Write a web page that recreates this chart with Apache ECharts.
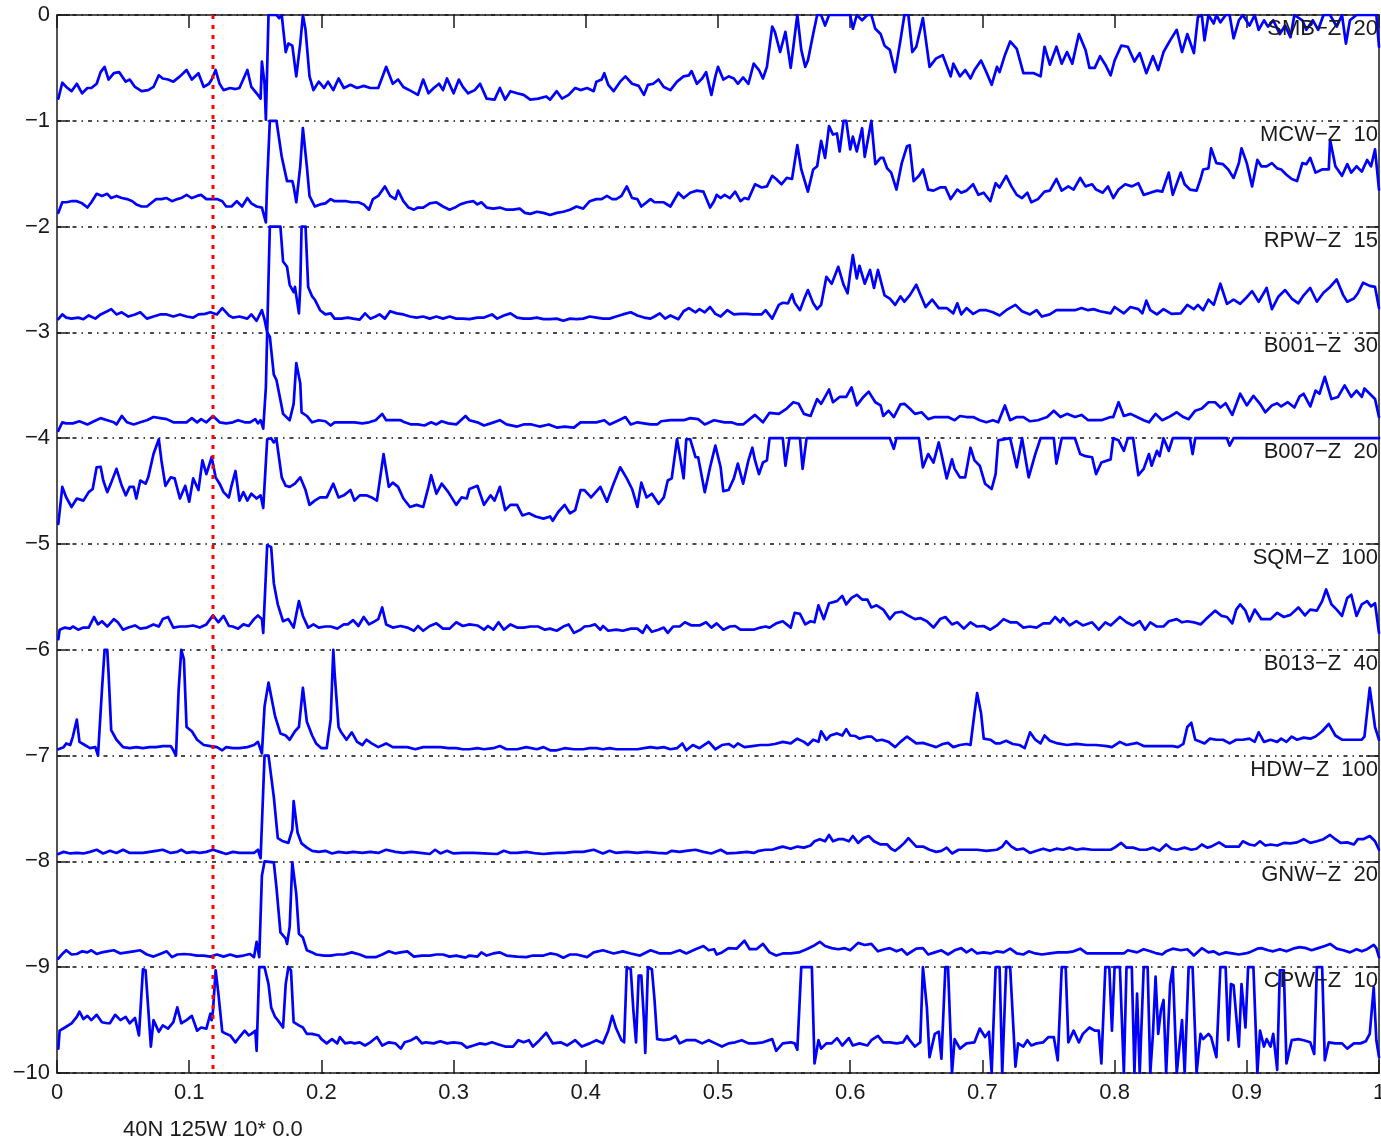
<!DOCTYPE html>
<html><head><meta charset="utf-8">
<script src="https://cdn.jsdelivr.net/npm/echarts@6/dist/echarts.min.js"></script>
<style>html,body{margin:0;padding:0;background:#fff;overflow:hidden}#c{width:1381px;height:1140px}</style>
</head><body><div id="c"></div>
<script>
const xTicks = [0,0.1,0.2,0.3,0.4,0.5,0.6,0.7,0.8,0.9,1];
const yTicks = [0,-1,-2,-3,-4,-5,-6,-7,-8,-9,-10];
const stations = ['SMB\u2212Z  20','MCW\u2212Z  10','RPW\u2212Z  15','B001\u2212Z  30','B007\u2212Z  20','SQM\u2212Z  100','B013\u2212Z  40','HDW\u2212Z  100','GNW\u2212Z  20','CPW\u2212Z  10'];
const markerX = 0.118;
const footnote = '40N 125W 10* 0.0';

const smb = [[0.001,-0.79],[0.004,-0.64],[0.007,-0.68],[0.011,-0.72],[0.015,-0.65],[0.019,-0.74],[0.023,-0.69],[0.026,-0.69],[0.030,-0.65],[0.033,-0.54],[0.036,-0.49],[0.039,-0.61],[0.043,-0.55],[0.047,-0.54],[0.052,-0.63],[0.055,-0.61],[0.059,-0.68],[0.064,-0.72],[0.069,-0.71],[0.073,-0.68],[0.077,-0.57],[0.080,-0.60],[0.084,-0.61],[0.088,-0.63],[0.093,-0.58],[0.098,-0.52],[0.102,-0.61],[0.107,-0.55],[0.111,-0.68],[0.115,-0.65],[0.117,-0.61],[0.120,-0.52],[0.123,-0.65],[0.126,-0.71],[0.131,-0.69],[0.135,-0.70],[0.138,-0.69],[0.144,-0.52],[0.147,-0.68],[0.151,-0.74],[0.154,-0.79],[0.155,-0.44],[0.157,-0.65],[0.158,-0.99],[0.160,0],[0.166,0],[0.168,-0.03],[0.170,0],[0.173,-0.35],[0.175,-0.27],[0.178,-0.29],[0.181,-0.58],[0.184,-0.27],[0.186,0],[0.188,-0.14],[0.191,-0.58],[0.194,-0.71],[0.198,-0.63],[0.202,-0.69],[0.205,-0.63],[0.209,-0.71],[0.213,-0.60],[0.217,-0.69],[0.222,-0.66],[0.227,-0.69],[0.232,-0.67],[0.237,-0.69],[0.243,-0.69],[0.249,-0.49],[0.254,-0.65],[0.258,-0.61],[0.262,-0.68],[0.268,-0.72],[0.273,-0.755],[0.277,-0.61],[0.281,-0.74],[0.285,-0.69],[0.289,-0.65],[0.292,-0.71],[0.295,-0.60],[0.300,-0.74],[0.304,-0.61],[0.307,-0.68],[0.311,-0.74],[0.316,-0.71],[0.320,-0.65],[0.325,-0.79],[0.331,-0.80],[0.335,-0.69],[0.339,-0.80],[0.343,-0.72],[0.348,-0.74],[0.353,-0.755],[0.358,-0.80],[0.364,-0.79],[0.370,-0.77],[0.373,-0.80],[0.378,-0.72],[0.382,-0.79],[0.387,-0.755],[0.392,-0.69],[0.396,-0.71],[0.401,-0.69],[0.406,-0.72],[0.408,-0.63],[0.412,-0.61],[0.414,-0.55],[0.417,-0.66],[0.421,-0.72],[0.426,-0.63],[0.430,-0.58],[0.435,-0.65],[0.440,-0.67],[0.444,-0.755],[0.447,-0.66],[0.451,-0.65],[0.455,-0.61],[0.459,-0.68],[0.464,-0.71],[0.469,-0.63],[0.474,-0.58],[0.478,-0.57],[0.480,-0.53],[0.484,-0.65],[0.488,-0.60],[0.491,-0.54],[0.495,-0.755],[0.498,-0.58],[0.500,-0.49],[0.504,-0.61],[0.508,-0.58],[0.512,-0.60],[0.515,-0.65],[0.519,-0.59],[0.523,-0.65],[0.527,-0.46],[0.531,-0.52],[0.534,-0.60],[0.537,-0.49],[0.541,-0.11],[0.543,-0.16],[0.547,-0.35],[0.551,-0.16],[0.555,-0.50],[0.557,-0.30],[0.560,0],[0.563,-0.33],[0.566,-0.49],[0.568,-0.43],[0.572,-0.18],[0.575,0],[0.578,0],[0.581,-0.10],[0.584,0],[0.600,0],[0.602,-0.13],[0.605,0],[0.609,-0.05],[0.613,0],[0.616,0],[0.619,-0.13],[0.623,-0.18],[0.626,-0.29],[0.630,-0.33],[0.634,-0.54],[0.638,-0.24],[0.641,0],[0.644,0],[0.647,-0.35],[0.650,-0.30],[0.655,-0.03],[0.660,-0.49],[0.665,-0.41],[0.670,-0.38],[0.676,-0.58],[0.678,-0.46],[0.683,-0.58],[0.687,-0.52],[0.691,-0.60],[0.694,-0.52],[0.699,-0.43],[0.703,-0.54],[0.707,-0.66],[0.711,-0.49],[0.713,-0.54],[0.717,-0.38],[0.721,-0.25],[0.726,-0.32],[0.731,-0.55],[0.739,-0.55],[0.744,-0.58],[0.747,-0.30],[0.751,-0.47],[0.756,-0.30],[0.760,-0.46],[0.764,-0.35],[0.768,-0.46],[0.773,-0.18],[0.778,-0.33],[0.781,-0.50],[0.785,-0.50],[0.789,-0.39],[0.793,-0.47],[0.797,-0.57],[0.800,-0.43],[0.805,-0.29],[0.810,-0.30],[0.815,-0.44],[0.819,-0.36],[0.824,-0.55],[0.829,-0.39],[0.833,-0.52],[0.837,-0.35],[0.842,-0.24],[0.847,-0.14],[0.851,-0.35],[0.855,-0.18],[0.860,-0.36],[0.863,-0.02],[0.866,0],[0.868,-0.24],[0.871,0],[0.875,-0.08],[0.877,0],[0.880,-0.07],[0.884,0],[0.887,0],[0.890,-0.22],[0.894,-0.05],[0.897,0],[0.902,-0.10],[0.906,0],[0.909,-0.14],[0.913,-0.05],[0.916,-0.11],[0.920,-0.05],[0.925,-0.18],[0.929,-0.10],[0.933,-0.21],[0.936,0],[0.942,-0.05],[0.945,-0.14],[0.950,-0.05],[0.954,-0.14],[0.958,0],[0.963,0],[0.968,-0.11],[0.972,0],[0.975,-0.27],[0.978,-0.05],[0.983,0],[0.998,0],[1.0,-0.30]];

const mcw = [[0.001,-1.87],[0.004,-1.77],[0.007,-1.77],[0.011,-1.76],[0.015,-1.76],[0.019,-1.78],[0.023,-1.82],[0.026,-1.77],[0.030,-1.69],[0.034,-1.71],[0.038,-1.69],[0.041,-1.73],[0.045,-1.71],[0.049,-1.73],[0.053,-1.74],[0.057,-1.76],[0.060,-1.79],[0.064,-1.81],[0.068,-1.81],[0.072,-1.77],[0.075,-1.74],[0.079,-1.74],[0.083,-1.73],[0.087,-1.76],[0.091,-1.74],[0.094,-1.73],[0.098,-1.70],[0.102,-1.73],[0.106,-1.71],[0.109,-1.70],[0.113,-1.74],[0.117,-1.74],[0.121,-1.74],[0.125,-1.76],[0.128,-1.81],[0.132,-1.81],[0.136,-1.76],[0.140,-1.81],[0.144,-1.73],[0.147,-1.78],[0.151,-1.81],[0.155,-1.82],[0.158,-1.96],[0.159,-1.57],[0.161,-1.0],[0.166,-1.0],[0.170,-1.34],[0.174,-1.57],[0.178,-1.57],[0.179,-1.62],[0.181,-1.77],[0.184,-1.43],[0.186,-1.07],[0.189,-1.43],[0.191,-1.71],[0.195,-1.81],[0.199,-1.79],[0.203,-1.78],[0.207,-1.74],[0.210,-1.76],[0.214,-1.76],[0.219,-1.76],[0.223,-1.77],[0.228,-1.77],[0.232,-1.79],[0.236,-1.84],[0.239,-1.74],[0.243,-1.71],[0.248,-1.62],[0.252,-1.71],[0.256,-1.74],[0.258,-1.66],[0.262,-1.76],[0.266,-1.82],[0.270,-1.84],[0.273,-1.82],[0.277,-1.82],[0.282,-1.78],[0.287,-1.77],[0.292,-1.81],[0.297,-1.84],[0.301,-1.82],[0.305,-1.79],[0.310,-1.77],[0.315,-1.76],[0.318,-1.79],[0.321,-1.77],[0.325,-1.82],[0.330,-1.83],[0.335,-1.82],[0.340,-1.84],[0.345,-1.84],[0.350,-1.83],[0.354,-1.87],[0.358,-1.88],[0.363,-1.86],[0.368,-1.87],[0.373,-1.89],[0.378,-1.87],[0.383,-1.86],[0.388,-1.84],[0.393,-1.81],[0.398,-1.83],[0.403,-1.76],[0.408,-1.74],[0.412,-1.74],[0.416,-1.71],[0.420,-1.74],[0.423,-1.74],[0.427,-1.71],[0.431,-1.62],[0.435,-1.73],[0.439,-1.74],[0.442,-1.81],[0.449,-1.74],[0.452,-1.77],[0.459,-1.77],[0.464,-1.81],[0.470,-1.68],[0.474,-1.73],[0.479,-1.68],[0.484,-1.66],[0.489,-1.67],[0.494,-1.82],[0.497,-1.76],[0.499,-1.70],[0.502,-1.73],[0.505,-1.70],[0.509,-1.73],[0.513,-1.67],[0.517,-1.76],[0.520,-1.73],[0.523,-1.74],[0.528,-1.60],[0.533,-1.63],[0.537,-1.62],[0.541,-1.52],[0.544,-1.55],[0.548,-1.60],[0.552,-1.54],[0.556,-1.55],[0.560,-1.23],[0.563,-1.46],[0.568,-1.67],[0.572,-1.46],[0.575,-1.43],[0.578,-1.19],[0.581,-1.35],[0.584,-1.05],[0.587,-1.13],[0.590,-1.12],[0.592,-1.29],[0.595,-1.0],[0.597,-1.0],[0.600,-1.27],[0.602,-1.15],[0.605,-1.29],[0.609,-1.07],[0.611,-1.34],[0.616,-1.0],[0.619,-1.41],[0.623,-1.35],[0.625,-1.35],[0.628,-1.45],[0.631,-1.49],[0.635,-1.65],[0.639,-1.40],[0.643,-1.24],[0.645,-1.23],[0.648,-1.57],[0.652,-1.52],[0.655,-1.46],[0.659,-1.65],[0.663,-1.66],[0.668,-1.63],[0.672,-1.63],[0.676,-1.74],[0.681,-1.65],[0.684,-1.68],[0.688,-1.66],[0.693,-1.60],[0.697,-1.70],[0.701,-1.68],[0.706,-1.76],[0.710,-1.59],[0.713,-1.63],[0.718,-1.52],[0.722,-1.62],[0.726,-1.70],[0.730,-1.73],[0.734,-1.68],[0.737,-1.77],[0.742,-1.74],[0.747,-1.67],[0.751,-1.66],[0.756,-1.55],[0.760,-1.66],[0.765,-1.62],[0.769,-1.65],[0.774,-1.54],[0.778,-1.62],[0.783,-1.60],[0.786,-1.65],[0.791,-1.68],[0.795,-1.62],[0.799,-1.73],[0.803,-1.65],[0.808,-1.60],[0.813,-1.62],[0.818,-1.59],[0.822,-1.70],[0.827,-1.68],[0.832,-1.66],[0.836,-1.67],[0.841,-1.49],[0.844,-1.70],[0.850,-1.49],[0.853,-1.60],[0.857,-1.65],[0.862,-1.66],[0.865,-1.55],[0.867,-1.46],[0.871,-1.45],[0.873,-1.26],[0.877,-1.40],[0.882,-1.41],[0.886,-1.46],[0.890,-1.54],[0.894,-1.40],[0.896,-1.26],[0.900,-1.40],[0.904,-1.62],[0.908,-1.37],[0.911,-1.43],[0.915,-1.43],[0.919,-1.40],[0.923,-1.45],[0.926,-1.46],[0.930,-1.51],[0.934,-1.55],[0.938,-1.57],[0.942,-1.40],[0.945,-1.41],[0.948,-1.35],[0.952,-1.49],[0.957,-1.46],[0.962,-1.46],[0.963,-1.18],[0.967,-1.43],[0.972,-1.52],[0.976,-1.41],[0.979,-1.49],[0.983,-1.43],[0.987,-1.48],[0.991,-1.37],[0.994,-1.43],[0.997,-1.27],[1.0,-1.65]];

const rpw = [[0.001,-2.875],[0.004,-2.83],[0.007,-2.86],[0.011,-2.87],[0.016,-2.86],[0.020,-2.875],[0.024,-2.84],[0.029,-2.87],[0.033,-2.83],[0.038,-2.80],[0.041,-2.78],[0.045,-2.83],[0.049,-2.81],[0.054,-2.85],[0.059,-2.83],[0.063,-2.81],[0.068,-2.87],[0.073,-2.85],[0.078,-2.83],[0.083,-2.83],[0.088,-2.85],[0.093,-2.83],[0.098,-2.85],[0.103,-2.86],[0.107,-2.83],[0.112,-2.825],[0.116,-2.81],[0.121,-2.83],[0.125,-2.77],[0.130,-2.84],[0.133,-2.86],[0.138,-2.85],[0.144,-2.87],[0.147,-2.83],[0.151,-2.89],[0.155,-2.79],[0.157,-2.88],[0.159,-3.0],[0.160,-2.49],[0.161,-2.0],[0.169,-2.0],[0.171,-2.33],[0.174,-2.38],[0.176,-2.55],[0.179,-2.62],[0.180,-2.57],[0.183,-2.82],[0.184,-2.57],[0.185,-2.0],[0.188,-2.0],[0.190,-2.57],[0.193,-2.66],[0.195,-2.69],[0.199,-2.79],[0.203,-2.83],[0.207,-2.82],[0.210,-2.87],[0.215,-2.87],[0.220,-2.86],[0.224,-2.87],[0.229,-2.88],[0.233,-2.82],[0.237,-2.87],[0.241,-2.85],[0.244,-2.83],[0.248,-2.87],[0.252,-2.80],[0.257,-2.82],[0.262,-2.83],[0.267,-2.85],[0.272,-2.86],[0.277,-2.85],[0.282,-2.87],[0.287,-2.85],[0.292,-2.87],[0.297,-2.85],[0.302,-2.87],[0.307,-2.87],[0.312,-2.875],[0.318,-2.86],[0.323,-2.86],[0.329,-2.83],[0.333,-2.87],[0.338,-2.84],[0.343,-2.82],[0.348,-2.86],[0.353,-2.87],[0.358,-2.87],[0.363,-2.86],[0.368,-2.875],[0.373,-2.875],[0.378,-2.87],[0.383,-2.89],[0.388,-2.87],[0.393,-2.875],[0.398,-2.87],[0.403,-2.85],[0.408,-2.86],[0.413,-2.87],[0.418,-2.87],[0.423,-2.85],[0.428,-2.83],[0.434,-2.81],[0.439,-2.84],[0.444,-2.86],[0.449,-2.87],[0.452,-2.85],[0.456,-2.82],[0.460,-2.87],[0.464,-2.84],[0.470,-2.875],[0.474,-2.80],[0.478,-2.77],[0.483,-2.81],[0.486,-2.78],[0.490,-2.81],[0.494,-2.76],[0.498,-2.825],[0.502,-2.85],[0.507,-2.79],[0.512,-2.83],[0.517,-2.825],[0.522,-2.825],[0.526,-2.83],[0.529,-2.83],[0.533,-2.83],[0.536,-2.79],[0.541,-2.87],[0.546,-2.74],[0.549,-2.72],[0.553,-2.725],[0.556,-2.64],[0.558,-2.72],[0.562,-2.79],[0.565,-2.69],[0.568,-2.60],[0.572,-2.725],[0.575,-2.78],[0.578,-2.74],[0.582,-2.475],[0.586,-2.54],[0.591,-2.38],[0.595,-2.55],[0.598,-2.63],[0.600,-2.44],[0.602,-2.27],[0.605,-2.49],[0.607,-2.37],[0.611,-2.54],[0.615,-2.41],[0.618,-2.58],[0.621,-2.41],[0.626,-2.65],[0.630,-2.68],[0.634,-2.74],[0.638,-2.66],[0.641,-2.71],[0.645,-2.65],[0.650,-2.55],[0.657,-2.76],[0.662,-2.69],[0.667,-2.77],[0.673,-2.77],[0.678,-2.82],[0.681,-2.725],[0.684,-2.83],[0.688,-2.77],[0.693,-2.825],[0.698,-2.79],[0.703,-2.79],[0.708,-2.81],[0.713,-2.84],[0.718,-2.79],[0.725,-2.74],[0.730,-2.80],[0.736,-2.83],[0.741,-2.79],[0.745,-2.85],[0.751,-2.83],[0.756,-2.79],[0.764,-2.79],[0.770,-2.79],[0.775,-2.77],[0.780,-2.79],[0.784,-2.78],[0.789,-2.80],[0.797,-2.82],[0.800,-2.76],[0.807,-2.82],[0.812,-2.76],[0.818,-2.78],[0.821,-2.82],[0.824,-2.70],[0.827,-2.79],[0.832,-2.83],[0.837,-2.78],[0.843,-2.825],[0.850,-2.82],[0.855,-2.74],[0.860,-2.78],[0.863,-2.74],[0.867,-2.79],[0.871,-2.69],[0.875,-2.74],[0.880,-2.54],[0.885,-2.73],[0.890,-2.69],[0.895,-2.73],[0.899,-2.68],[0.904,-2.61],[0.909,-2.71],[0.915,-2.58],[0.919,-2.78],[0.924,-2.66],[0.929,-2.60],[0.934,-2.68],[0.939,-2.725],[0.943,-2.65],[0.948,-2.58],[0.953,-2.71],[0.958,-2.625],[0.963,-2.57],[0.968,-2.50],[0.973,-2.65],[0.976,-2.71],[0.981,-2.68],[0.984,-2.63],[0.988,-2.53],[0.993,-2.56],[0.997,-2.57],[1.0,-2.77]];

const b001 = [[0.001,-3.93],[0.004,-3.85],[0.007,-3.86],[0.012,-3.86],[0.017,-3.84],[0.023,-3.87],[0.028,-3.84],[0.033,-3.81],[0.038,-3.83],[0.043,-3.85],[0.045,-3.87],[0.049,-3.79],[0.053,-3.85],[0.058,-3.87],[0.063,-3.85],[0.068,-3.83],[0.073,-3.80],[0.078,-3.81],[0.083,-3.82],[0.088,-3.85],[0.093,-3.85],[0.098,-3.85],[0.102,-3.81],[0.106,-3.85],[0.109,-3.82],[0.113,-3.85],[0.118,-3.79],[0.123,-3.85],[0.128,-3.86],[0.133,-3.85],[0.137,-3.83],[0.142,-3.85],[0.146,-3.85],[0.150,-3.82],[0.152,-3.86],[0.154,-3.83],[0.156,-3.91],[0.158,-3.52],[0.159,-3.0],[0.161,-3.04],[0.164,-3.40],[0.166,-3.45],[0.169,-3.64],[0.171,-3.77],[0.176,-3.83],[0.179,-3.675],[0.181,-3.29],[0.184,-3.48],[0.185,-3.755],[0.189,-3.79],[0.193,-3.85],[0.198,-3.83],[0.203,-3.84],[0.207,-3.88],[0.210,-3.85],[0.215,-3.85],[0.220,-3.85],[0.225,-3.85],[0.231,-3.86],[0.236,-3.85],[0.241,-3.83],[0.246,-3.77],[0.249,-3.83],[0.254,-3.83],[0.260,-3.83],[0.263,-3.85],[0.268,-3.87],[0.273,-3.87],[0.278,-3.88],[0.283,-3.85],[0.287,-3.87],[0.291,-3.84],[0.296,-3.86],[0.302,-3.87],[0.309,-3.79],[0.312,-3.83],[0.318,-3.85],[0.323,-3.88],[0.328,-3.86],[0.335,-3.83],[0.340,-3.87],[0.348,-3.89],[0.353,-3.87],[0.359,-3.87],[0.365,-3.89],[0.372,-3.87],[0.378,-3.90],[0.384,-3.89],[0.391,-3.90],[0.396,-3.85],[0.403,-3.85],[0.408,-3.85],[0.414,-3.83],[0.418,-3.87],[0.425,-3.83],[0.430,-3.80],[0.434,-3.87],[0.439,-3.85],[0.444,-3.86],[0.449,-3.87],[0.454,-3.87],[0.457,-3.84],[0.464,-3.83],[0.469,-3.83],[0.474,-3.83],[0.479,-3.81],[0.485,-3.82],[0.490,-3.87],[0.497,-3.83],[0.505,-3.85],[0.510,-3.85],[0.515,-3.87],[0.519,-3.87],[0.524,-3.82],[0.528,-3.78],[0.534,-3.85],[0.539,-3.76],[0.546,-3.77],[0.552,-3.72],[0.557,-3.66],[0.561,-3.675],[0.565,-3.77],[0.570,-3.79],[0.575,-3.63],[0.578,-3.675],[0.584,-3.54],[0.587,-3.66],[0.592,-3.61],[0.597,-3.61],[0.601,-3.52],[0.605,-3.69],[0.610,-3.61],[0.614,-3.56],[0.619,-3.66],[0.623,-3.69],[0.625,-3.79],[0.629,-3.74],[0.633,-3.80],[0.638,-3.68],[0.641,-3.675],[0.645,-3.72],[0.649,-3.77],[0.654,-3.755],[0.659,-3.82],[0.664,-3.80],[0.669,-3.80],[0.674,-3.80],[0.679,-3.83],[0.683,-3.79],[0.688,-3.80],[0.693,-3.80],[0.698,-3.83],[0.703,-3.85],[0.708,-3.83],[0.712,-3.85],[0.717,-3.69],[0.721,-3.83],[0.726,-3.80],[0.731,-3.80],[0.736,-3.84],[0.742,-3.83],[0.749,-3.80],[0.754,-3.74],[0.759,-3.80],[0.764,-3.77],[0.770,-3.80],[0.775,-3.78],[0.780,-3.83],[0.785,-3.83],[0.790,-3.83],[0.797,-3.80],[0.799,-3.80],[0.803,-3.66],[0.807,-3.79],[0.812,-3.77],[0.817,-3.80],[0.822,-3.83],[0.826,-3.85],[0.831,-3.77],[0.836,-3.83],[0.841,-3.80],[0.847,-3.755],[0.852,-3.80],[0.856,-3.82],[0.861,-3.74],[0.866,-3.72],[0.871,-3.66],[0.876,-3.66],[0.880,-3.71],[0.884,-3.67],[0.889,-3.78],[0.895,-3.58],[0.900,-3.69],[0.905,-3.60],[0.910,-3.675],[0.914,-3.755],[0.919,-3.69],[0.923,-3.67],[0.926,-3.70],[0.931,-3.66],[0.936,-3.71],[0.940,-3.605],[0.943,-3.58],[0.948,-3.70],[0.952,-3.55],[0.955,-3.58],[0.959,-3.42],[0.964,-3.63],[0.969,-3.61],[0.974,-3.50],[0.979,-3.61],[0.983,-3.55],[0.987,-3.61],[0.989,-3.53],[0.993,-3.58],[0.997,-3.63],[1.0,-3.80]];

const b007 = [[0.001,-4.81],[0.004,-4.46],[0.007,-4.56],[0.011,-4.65],[0.015,-4.57],[0.020,-4.59],[0.024,-4.51],[0.027,-4.48],[0.030,-4.275],[0.033,-4.27],[0.035,-4.40],[0.038,-4.51],[0.041,-4.42],[0.045,-4.29],[0.049,-4.45],[0.052,-4.54],[0.055,-4.46],[0.058,-4.46],[0.060,-4.57],[0.063,-4.40],[0.067,-4.43],[0.069,-4.37],[0.073,-4.15],[0.077,-4.01],[0.079,-4.21],[0.082,-4.45],[0.086,-4.37],[0.089,-4.38],[0.093,-4.57],[0.097,-4.45],[0.100,-4.60],[0.103,-4.38],[0.107,-4.49],[0.110,-4.21],[0.113,-4.34],[0.117,-4.18],[0.120,-4.37],[0.123,-4.43],[0.126,-4.51],[0.130,-4.56],[0.132,-4.45],[0.135,-4.31],[0.138,-4.59],[0.141,-4.51],[0.144,-4.59],[0.147,-4.525],[0.151,-4.57],[0.154,-4.54],[0.156,-4.66],[0.159,-4.01],[0.162,-4.0],[0.164,-4.04],[0.166,-4.01],[0.170,-4.37],[0.173,-4.45],[0.176,-4.46],[0.180,-4.43],[0.184,-4.37],[0.188,-4.49],[0.191,-4.63],[0.195,-4.59],[0.199,-4.56],[0.204,-4.56],[0.209,-4.43],[0.213,-4.56],[0.217,-4.54],[0.222,-4.49],[0.225,-4.59],[0.229,-4.54],[0.234,-4.54],[0.238,-4.56],[0.242,-4.59],[0.247,-4.15],[0.251,-4.46],[0.254,-4.42],[0.258,-4.46],[0.262,-4.57],[0.267,-4.65],[0.272,-4.63],[0.277,-4.65],[0.281,-4.46],[0.283,-4.35],[0.287,-4.525],[0.291,-4.43],[0.296,-4.51],[0.302,-4.63],[0.306,-4.56],[0.310,-4.57],[0.312,-4.48],[0.318,-4.45],[0.323,-4.63],[0.328,-4.54],[0.331,-4.59],[0.335,-4.46],[0.339,-4.68],[0.343,-4.63],[0.348,-4.63],[0.352,-4.73],[0.357,-4.71],[0.362,-4.74],[0.368,-4.76],[0.373,-4.74],[0.375,-4.78],[0.379,-4.70],[0.384,-4.63],[0.388,-4.71],[0.392,-4.68],[0.396,-4.49],[0.399,-4.49],[0.404,-4.56],[0.411,-4.46],[0.416,-4.60],[0.421,-4.43],[0.426,-4.275],[0.431,-4.38],[0.435,-4.48],[0.439,-4.65],[0.442,-4.42],[0.446,-4.56],[0.450,-4.525],[0.455,-4.62],[0.459,-4.56],[0.462,-4.40],[0.465,-4.38],[0.469,-4.01],[0.471,-4.15],[0.474,-4.38],[0.476,-4.01],[0.479,-4.01],[0.483,-4.18],[0.485,-4.18],[0.490,-4.51],[0.494,-4.275],[0.498,-4.07],[0.502,-4.275],[0.504,-4.50],[0.508,-4.49],[0.512,-4.38],[0.515,-4.24],[0.519,-4.43],[0.523,-4.21],[0.526,-4.09],[0.528,-4.21],[0.531,-4.34],[0.534,-4.23],[0.537,-4.21],[0.539,-4.0],[0.549,-4.0],[0.551,-4.26],[0.554,-4.0],[0.562,-4.0],[0.564,-4.29],[0.567,-4.0],[0.630,-4.0],[0.633,-4.10],[0.635,-4.0],[0.652,-4.0],[0.655,-4.275],[0.659,-4.15],[0.663,-4.23],[0.667,-4.04],[0.669,-4.15],[0.673,-4.38],[0.677,-4.20],[0.679,-4.29],[0.683,-4.37],[0.687,-4.37],[0.691,-4.09],[0.694,-4.21],[0.698,-4.26],[0.702,-4.43],[0.707,-4.48],[0.710,-4.34],[0.712,-4.02],[0.721,-4.0],[0.726,-4.275],[0.730,-4.0],[0.735,-4.37],[0.740,-4.15],[0.744,-4.0],[0.754,-4.0],[0.756,-4.24],[0.760,-4.0],[0.770,-4.0],[0.774,-4.15],[0.778,-4.17],[0.783,-4.18],[0.786,-4.34],[0.790,-4.23],[0.797,-4.20],[0.799,-4.0],[0.803,-4.02],[0.807,-4.12],[0.810,-4.0],[0.814,-4.0],[0.818,-4.35],[0.822,-4.29],[0.826,-4.15],[0.828,-4.26],[0.832,-4.12],[0.834,-4.17],[0.837,-4.0],[0.841,-4.12],[0.844,-4.0],[0.857,-4.0],[0.859,-4.15],[0.861,-4.0],[0.885,-4.0],[0.887,-4.07],[0.890,-4.0],[1.0,-4.0]];

const sqm = [[0.001,-5.90],[0.002,-5.81],[0.006,-5.79],[0.010,-5.80],[0.012,-5.78],[0.016,-5.81],[0.020,-5.79],[0.024,-5.79],[0.028,-5.69],[0.031,-5.76],[0.034,-5.73],[0.038,-5.78],[0.043,-5.71],[0.046,-5.74],[0.050,-5.81],[0.054,-5.79],[0.059,-5.77],[0.063,-5.80],[0.068,-5.79],[0.073,-5.76],[0.077,-5.78],[0.080,-5.71],[0.084,-5.69],[0.088,-5.79],[0.093,-5.78],[0.098,-5.78],[0.103,-5.77],[0.108,-5.79],[0.113,-5.76],[0.118,-5.675],[0.122,-5.74],[0.126,-5.68],[0.130,-5.775],[0.133,-5.78],[0.137,-5.80],[0.141,-5.76],[0.145,-5.775],[0.149,-5.71],[0.152,-5.675],[0.155,-5.71],[0.156,-5.84],[0.159,-5.01],[0.162,-5.03],[0.164,-5.37],[0.167,-5.57],[0.171,-5.73],[0.175,-5.71],[0.179,-5.79],[0.183,-5.54],[0.186,-5.68],[0.190,-5.79],[0.194,-5.76],[0.198,-5.79],[0.203,-5.78],[0.207,-5.78],[0.212,-5.80],[0.217,-5.76],[0.220,-5.76],[0.224,-5.72],[0.228,-5.775],[0.232,-5.69],[0.236,-5.76],[0.239,-5.74],[0.243,-5.71],[0.246,-5.60],[0.249,-5.76],[0.254,-5.79],[0.260,-5.775],[0.265,-5.79],[0.270,-5.82],[0.273,-5.775],[0.277,-5.82],[0.282,-5.775],[0.287,-5.75],[0.292,-5.80],[0.297,-5.80],[0.302,-5.74],[0.307,-5.775],[0.312,-5.76],[0.318,-5.77],[0.323,-5.81],[0.326,-5.775],[0.330,-5.81],[0.334,-5.74],[0.338,-5.81],[0.343,-5.76],[0.348,-5.79],[0.353,-5.79],[0.358,-5.78],[0.364,-5.78],[0.369,-5.81],[0.373,-5.80],[0.378,-5.82],[0.383,-5.78],[0.387,-5.76],[0.391,-5.84],[0.396,-5.81],[0.399,-5.78],[0.403,-5.775],[0.407,-5.76],[0.411,-5.81],[0.413,-5.775],[0.417,-5.82],[0.423,-5.81],[0.428,-5.82],[0.434,-5.80],[0.439,-5.80],[0.443,-5.84],[0.446,-5.77],[0.450,-5.83],[0.455,-5.81],[0.459,-5.79],[0.462,-5.84],[0.466,-5.78],[0.471,-5.78],[0.475,-5.74],[0.480,-5.77],[0.486,-5.77],[0.491,-5.74],[0.495,-5.79],[0.499,-5.75],[0.504,-5.81],[0.509,-5.78],[0.513,-5.775],[0.517,-5.81],[0.522,-5.81],[0.527,-5.81],[0.532,-5.79],[0.536,-5.78],[0.539,-5.79],[0.544,-5.75],[0.549,-5.73],[0.555,-5.79],[0.558,-5.65],[0.562,-5.66],[0.566,-5.76],[0.570,-5.73],[0.573,-5.74],[0.576,-5.58],[0.580,-5.71],[0.584,-5.56],[0.590,-5.54],[0.594,-5.49],[0.597,-5.57],[0.601,-5.51],[0.605,-5.48],[0.609,-5.525],[0.613,-5.525],[0.616,-5.60],[0.620,-5.58],[0.625,-5.62],[0.630,-5.71],[0.634,-5.65],[0.639,-5.64],[0.643,-5.67],[0.649,-5.71],[0.653,-5.70],[0.658,-5.73],[0.663,-5.79],[0.668,-5.71],[0.672,-5.69],[0.677,-5.76],[0.681,-5.74],[0.686,-5.80],[0.691,-5.74],[0.696,-5.78],[0.701,-5.775],[0.706,-5.81],[0.711,-5.77],[0.716,-5.71],[0.721,-5.74],[0.726,-5.74],[0.731,-5.79],[0.736,-5.78],[0.741,-5.79],[0.746,-5.75],[0.751,-5.75],[0.755,-5.69],[0.759,-5.74],[0.761,-5.70],[0.766,-5.77],[0.771,-5.73],[0.776,-5.77],[0.783,-5.74],[0.788,-5.81],[0.793,-5.74],[0.797,-5.77],[0.804,-5.69],[0.809,-5.74],[0.814,-5.77],[0.819,-5.73],[0.823,-5.81],[0.827,-5.74],[0.832,-5.78],[0.837,-5.78],[0.841,-5.73],[0.847,-5.71],[0.851,-5.74],[0.855,-5.73],[0.860,-5.74],[0.865,-5.76],[0.870,-5.70],[0.876,-5.63],[0.881,-5.68],[0.885,-5.69],[0.889,-5.75],[0.892,-5.62],[0.895,-5.57],[0.899,-5.63],[0.902,-5.73],[0.906,-5.62],[0.911,-5.71],[0.918,-5.71],[0.923,-5.65],[0.928,-5.69],[0.933,-5.67],[0.939,-5.60],[0.944,-5.675],[0.948,-5.62],[0.953,-5.63],[0.957,-5.54],[0.960,-5.43],[0.964,-5.57],[0.968,-5.62],[0.972,-5.68],[0.976,-5.51],[0.979,-5.48],[0.983,-5.68],[0.987,-5.57],[0.991,-5.54],[0.994,-5.59],[0.997,-5.56],[1.0,-5.84]];

const b013 = [[0.001,-6.94],[0.005,-6.92],[0.007,-6.885],[0.010,-6.90],[0.012,-6.82],[0.015,-6.66],[0.017,-6.87],[0.021,-6.90],[0.025,-6.93],[0.029,-6.92],[0.031,-7.0],[0.034,-6.38],[0.036,-6.0],[0.038,-6.0],[0.039,-6.22],[0.041,-6.76],[0.045,-6.85],[0.050,-6.92],[0.055,-6.93],[0.060,-6.92],[0.065,-6.93],[0.070,-6.92],[0.075,-6.92],[0.080,-6.91],[0.086,-6.91],[0.088,-6.95],[0.090,-7.0],[0.092,-6.38],[0.094,-6.0],[0.096,-6.09],[0.098,-6.73],[0.102,-6.77],[0.106,-6.85],[0.111,-6.90],[0.116,-6.91],[0.121,-6.92],[0.125,-6.95],[0.128,-6.92],[0.133,-6.93],[0.138,-6.93],[0.144,-6.92],[0.149,-6.90],[0.152,-6.87],[0.155,-6.98],[0.157,-6.535],[0.160,-6.31],[0.162,-6.44],[0.165,-6.63],[0.169,-6.79],[0.173,-6.81],[0.176,-6.85],[0.180,-6.77],[0.183,-6.73],[0.186,-6.36],[0.189,-6.68],[0.193,-6.81],[0.196,-6.885],[0.200,-6.93],[0.204,-6.93],[0.207,-6.66],[0.209,-6.0],[0.210,-6.22],[0.213,-6.73],[0.215,-6.78],[0.219,-6.85],[0.223,-6.78],[0.227,-6.87],[0.231,-6.90],[0.234,-6.85],[0.238,-6.885],[0.243,-6.92],[0.249,-6.885],[0.254,-6.92],[0.260,-6.92],[0.265,-6.92],[0.271,-6.94],[0.277,-6.92],[0.285,-6.92],[0.290,-6.92],[0.296,-6.93],[0.302,-6.93],[0.307,-6.94],[0.312,-6.94],[0.318,-6.93],[0.323,-6.94],[0.330,-6.93],[0.335,-6.91],[0.340,-6.94],[0.348,-6.94],[0.355,-6.92],[0.363,-6.94],[0.368,-6.92],[0.373,-6.95],[0.378,-6.95],[0.384,-6.93],[0.391,-6.94],[0.398,-6.94],[0.403,-6.93],[0.408,-6.93],[0.413,-6.94],[0.418,-6.93],[0.423,-6.94],[0.428,-6.94],[0.434,-6.94],[0.439,-6.94],[0.444,-6.93],[0.449,-6.92],[0.454,-6.93],[0.459,-6.92],[0.464,-6.94],[0.469,-6.93],[0.473,-6.885],[0.476,-6.95],[0.481,-6.90],[0.486,-6.93],[0.493,-6.87],[0.498,-6.94],[0.503,-6.90],[0.508,-6.89],[0.512,-6.92],[0.515,-6.885],[0.520,-6.92],[0.526,-6.91],[0.532,-6.90],[0.538,-6.90],[0.543,-6.89],[0.549,-6.87],[0.555,-6.885],[0.560,-6.84],[0.565,-6.87],[0.568,-6.90],[0.572,-6.85],[0.576,-6.87],[0.578,-6.77],[0.582,-6.85],[0.585,-6.81],[0.590,-6.79],[0.594,-6.81],[0.597,-6.75],[0.600,-6.81],[0.604,-6.815],[0.607,-6.84],[0.613,-6.82],[0.616,-6.82],[0.620,-6.86],[0.624,-6.85],[0.629,-6.87],[0.634,-6.92],[0.638,-6.87],[0.643,-6.82],[0.650,-6.885],[0.655,-6.88],[0.660,-6.90],[0.665,-6.92],[0.670,-6.89],[0.674,-6.88],[0.678,-6.92],[0.683,-6.90],[0.688,-6.89],[0.691,-6.90],[0.694,-6.60],[0.696,-6.41],[0.699,-6.60],[0.701,-6.84],[0.706,-6.85],[0.710,-6.885],[0.713,-6.885],[0.718,-6.86],[0.723,-6.89],[0.728,-6.90],[0.732,-6.93],[0.736,-6.78],[0.740,-6.85],[0.744,-6.885],[0.747,-6.81],[0.751,-6.86],[0.757,-6.885],[0.764,-6.90],[0.771,-6.89],[0.779,-6.90],[0.786,-6.90],[0.794,-6.91],[0.798,-6.92],[0.804,-6.87],[0.809,-6.90],[0.817,-6.88],[0.822,-6.91],[0.829,-6.91],[0.837,-6.91],[0.844,-6.91],[0.848,-6.92],[0.852,-6.89],[0.855,-6.73],[0.858,-6.69],[0.861,-6.85],[0.865,-6.87],[0.868,-6.885],[0.872,-6.84],[0.877,-6.85],[0.882,-6.85],[0.887,-6.885],[0.892,-6.85],[0.897,-6.85],[0.902,-6.84],[0.906,-6.87],[0.909,-6.78],[0.913,-6.87],[0.918,-6.85],[0.923,-6.87],[0.926,-6.84],[0.930,-6.87],[0.934,-6.82],[0.938,-6.85],[0.943,-6.83],[0.948,-6.84],[0.952,-6.82],[0.957,-6.77],[0.962,-6.70],[0.967,-6.81],[0.972,-6.85],[0.977,-6.85],[0.982,-6.85],[0.987,-6.85],[0.989,-6.82],[0.993,-6.36],[0.997,-6.73],[1.0,-6.85]];

const hdw = [[0.001,-7.93],[0.005,-7.91],[0.010,-7.925],[0.015,-7.92],[0.020,-7.925],[0.025,-7.91],[0.030,-7.89],[0.035,-7.925],[0.040,-7.90],[0.045,-7.92],[0.050,-7.89],[0.055,-7.92],[0.060,-7.92],[0.065,-7.92],[0.070,-7.91],[0.075,-7.90],[0.080,-7.89],[0.086,-7.92],[0.091,-7.91],[0.094,-7.89],[0.098,-7.92],[0.103,-7.91],[0.108,-7.92],[0.113,-7.91],[0.118,-7.89],[0.123,-7.91],[0.128,-7.93],[0.133,-7.91],[0.138,-7.92],[0.144,-7.92],[0.149,-7.92],[0.152,-7.89],[0.154,-7.97],[0.157,-7.0],[0.160,-7.0],[0.164,-7.39],[0.167,-7.78],[0.171,-7.81],[0.175,-7.825],[0.178,-7.70],[0.179,-7.43],[0.182,-7.73],[0.185,-7.83],[0.189,-7.87],[0.193,-7.90],[0.198,-7.91],[0.203,-7.90],[0.208,-7.925],[0.213,-7.91],[0.219,-7.92],[0.224,-7.91],[0.231,-7.92],[0.237,-7.91],[0.243,-7.92],[0.249,-7.89],[0.256,-7.91],[0.262,-7.92],[0.268,-7.91],[0.275,-7.92],[0.282,-7.93],[0.286,-7.89],[0.290,-7.925],[0.295,-7.90],[0.300,-7.925],[0.307,-7.92],[0.315,-7.92],[0.323,-7.925],[0.333,-7.93],[0.338,-7.90],[0.343,-7.92],[0.348,-7.92],[0.355,-7.91],[0.363,-7.925],[0.368,-7.93],[0.373,-7.925],[0.378,-7.92],[0.384,-7.92],[0.391,-7.91],[0.398,-7.91],[0.406,-7.89],[0.413,-7.925],[0.418,-7.90],[0.423,-7.92],[0.431,-7.91],[0.439,-7.92],[0.446,-7.91],[0.454,-7.92],[0.461,-7.925],[0.465,-7.90],[0.471,-7.91],[0.476,-7.90],[0.483,-7.89],[0.489,-7.91],[0.495,-7.925],[0.502,-7.89],[0.507,-7.925],[0.514,-7.92],[0.522,-7.91],[0.527,-7.92],[0.531,-7.90],[0.536,-7.89],[0.541,-7.89],[0.546,-7.87],[0.549,-7.86],[0.555,-7.88],[0.560,-7.86],[0.565,-7.87],[0.570,-7.85],[0.573,-7.81],[0.577,-7.79],[0.581,-7.81],[0.584,-7.75],[0.587,-7.81],[0.591,-7.79],[0.595,-7.79],[0.599,-7.81],[0.602,-7.76],[0.606,-7.825],[0.610,-7.78],[0.614,-7.76],[0.618,-7.81],[0.623,-7.84],[0.628,-7.84],[0.631,-7.88],[0.634,-7.90],[0.638,-7.86],[0.641,-7.825],[0.644,-7.78],[0.650,-7.86],[0.655,-7.86],[0.660,-7.89],[0.665,-7.91],[0.669,-7.90],[0.673,-7.87],[0.677,-7.925],[0.682,-7.89],[0.688,-7.89],[0.696,-7.89],[0.703,-7.90],[0.711,-7.89],[0.715,-7.86],[0.718,-7.81],[0.722,-7.86],[0.726,-7.89],[0.731,-7.88],[0.736,-7.92],[0.741,-7.90],[0.746,-7.88],[0.751,-7.90],[0.756,-7.88],[0.761,-7.89],[0.766,-7.87],[0.771,-7.89],[0.776,-7.88],[0.783,-7.89],[0.789,-7.89],[0.797,-7.89],[0.800,-7.87],[0.805,-7.825],[0.809,-7.87],[0.814,-7.87],[0.819,-7.89],[0.824,-7.89],[0.829,-7.87],[0.834,-7.90],[0.839,-7.84],[0.843,-7.88],[0.847,-7.89],[0.853,-7.87],[0.858,-7.89],[0.862,-7.88],[0.866,-7.84],[0.870,-7.87],[0.873,-7.86],[0.879,-7.82],[0.884,-7.86],[0.889,-7.86],[0.894,-7.86],[0.897,-7.81],[0.902,-7.84],[0.906,-7.85],[0.910,-7.81],[0.914,-7.85],[0.918,-7.84],[0.923,-7.85],[0.928,-7.825],[0.933,-7.83],[0.938,-7.82],[0.943,-7.79],[0.948,-7.825],[0.953,-7.81],[0.958,-7.79],[0.963,-7.75],[0.967,-7.79],[0.971,-7.825],[0.976,-7.82],[0.981,-7.84],[0.984,-7.79],[0.988,-7.79],[0.993,-7.76],[0.997,-7.81],[1.0,-7.89]];

const gnw = [[0.001,-8.92],[0.004,-8.875],[0.007,-8.84],[0.011,-8.88],[0.015,-8.875],[0.019,-8.85],[0.023,-8.86],[0.026,-8.84],[0.030,-8.875],[0.034,-8.86],[0.038,-8.85],[0.043,-8.84],[0.048,-8.87],[0.053,-8.86],[0.058,-8.85],[0.063,-8.84],[0.068,-8.88],[0.073,-8.90],[0.078,-8.875],[0.083,-8.85],[0.087,-8.905],[0.091,-8.88],[0.096,-8.875],[0.101,-8.88],[0.106,-8.89],[0.111,-8.89],[0.116,-8.90],[0.121,-8.88],[0.126,-8.90],[0.131,-8.88],[0.136,-8.90],[0.141,-8.89],[0.146,-8.875],[0.149,-8.905],[0.151,-8.76],[0.153,-8.905],[0.155,-8.135],[0.157,-8.0],[0.164,-8.01],[0.166,-8.245],[0.169,-8.67],[0.173,-8.73],[0.174,-8.78],[0.176,-8.62],[0.178,-8.01],[0.181,-8.31],[0.183,-8.685],[0.186,-8.72],[0.189,-8.84],[0.193,-8.86],[0.196,-8.88],[0.202,-8.89],[0.207,-8.89],[0.212,-8.88],[0.217,-8.88],[0.223,-8.86],[0.229,-8.88],[0.234,-8.905],[0.241,-8.905],[0.246,-8.88],[0.251,-8.85],[0.256,-8.87],[0.260,-8.86],[0.265,-8.85],[0.270,-8.90],[0.276,-8.89],[0.282,-8.89],[0.287,-8.88],[0.292,-8.88],[0.297,-8.90],[0.302,-8.89],[0.309,-8.91],[0.312,-8.89],[0.318,-8.90],[0.321,-8.86],[0.325,-8.89],[0.330,-8.87],[0.335,-8.86],[0.340,-8.89],[0.348,-8.90],[0.355,-8.905],[0.360,-8.89],[0.368,-8.89],[0.373,-8.87],[0.378,-8.88],[0.383,-8.91],[0.388,-8.88],[0.393,-8.88],[0.401,-8.905],[0.406,-8.86],[0.413,-8.84],[0.421,-8.87],[0.428,-8.85],[0.434,-8.87],[0.441,-8.89],[0.449,-8.84],[0.456,-8.87],[0.464,-8.87],[0.471,-8.84],[0.476,-8.87],[0.483,-8.83],[0.489,-8.80],[0.493,-8.84],[0.497,-8.83],[0.499,-8.88],[0.503,-8.86],[0.508,-8.82],[0.514,-8.825],[0.520,-8.75],[0.524,-8.83],[0.529,-8.83],[0.534,-8.78],[0.539,-8.86],[0.544,-8.89],[0.549,-8.87],[0.555,-8.87],[0.561,-8.86],[0.567,-8.83],[0.572,-8.80],[0.577,-8.76],[0.581,-8.80],[0.586,-8.82],[0.591,-8.83],[0.596,-8.82],[0.600,-8.84],[0.606,-8.77],[0.611,-8.79],[0.616,-8.78],[0.621,-8.85],[0.626,-8.83],[0.630,-8.82],[0.635,-8.85],[0.639,-8.83],[0.643,-8.88],[0.650,-8.825],[0.655,-8.82],[0.659,-8.88],[0.664,-8.86],[0.669,-8.84],[0.674,-8.88],[0.679,-8.84],[0.684,-8.82],[0.688,-8.86],[0.692,-8.83],[0.696,-8.87],[0.701,-8.86],[0.706,-8.87],[0.711,-8.85],[0.716,-8.86],[0.721,-8.825],[0.726,-8.87],[0.731,-8.88],[0.735,-8.85],[0.740,-8.87],[0.745,-8.88],[0.751,-8.87],[0.757,-8.86],[0.764,-8.86],[0.769,-8.85],[0.774,-8.825],[0.779,-8.87],[0.786,-8.87],[0.794,-8.87],[0.800,-8.87],[0.807,-8.87],[0.810,-8.84],[0.817,-8.86],[0.822,-8.83],[0.827,-8.85],[0.832,-8.87],[0.836,-8.88],[0.839,-8.85],[0.844,-8.825],[0.850,-8.84],[0.855,-8.83],[0.860,-8.89],[0.866,-8.82],[0.871,-8.86],[0.875,-8.85],[0.879,-8.88],[0.884,-8.86],[0.889,-8.87],[0.894,-8.88],[0.899,-8.87],[0.902,-8.86],[0.908,-8.825],[0.911,-8.82],[0.916,-8.84],[0.920,-8.85],[0.925,-8.83],[0.930,-8.85],[0.935,-8.825],[0.940,-8.81],[0.945,-8.82],[0.949,-8.84],[0.954,-8.82],[0.959,-8.80],[0.963,-8.78],[0.968,-8.825],[0.973,-8.84],[0.978,-8.86],[0.983,-8.83],[0.987,-8.85],[0.991,-8.83],[0.996,-8.79],[0.998,-8.82],[1.0,-8.905]];

const cpw = [[0.001,-9.77],[0.002,-9.60],[0.006,-9.57],[0.011,-9.53],[0.015,-9.47],[0.017,-9.42],[0.020,-9.49],[0.023,-9.46],[0.026,-9.50],[0.030,-9.45],[0.034,-9.52],[0.038,-9.53],[0.040,-9.53],[0.044,-9.45],[0.048,-9.50],[0.052,-9.47],[0.055,-9.53],[0.059,-9.48],[0.062,-9.645],[0.063,-9.65],[0.065,-9.02],[0.067,-9.03],[0.069,-9.39],[0.071,-9.75],[0.073,-9.50],[0.077,-9.61],[0.080,-9.55],[0.084,-9.58],[0.088,-9.52],[0.091,-9.38],[0.094,-9.53],[0.098,-9.50],[0.102,-9.46],[0.106,-9.60],[0.109,-9.57],[0.113,-9.58],[0.116,-9.44],[0.117,-9.50],[0.118,-9.41],[0.120,-9.03],[0.122,-9.24],[0.125,-9.61],[0.128,-9.63],[0.131,-9.645],[0.135,-9.71],[0.138,-9.66],[0.142,-9.60],[0.145,-9.645],[0.147,-9.63],[0.150,-9.60],[0.151,-9.79],[0.153,-9.0],[0.157,-9.0],[0.160,-9.16],[0.162,-9.38],[0.165,-9.47],[0.167,-9.50],[0.171,-9.57],[0.173,-9.16],[0.175,-9.0],[0.177,-9.03],[0.179,-9.52],[0.183,-9.55],[0.186,-9.57],[0.189,-9.63],[0.193,-9.63],[0.198,-9.645],[0.200,-9.68],[0.204,-9.72],[0.208,-9.68],[0.212,-9.72],[0.214,-9.66],[0.218,-9.72],[0.222,-9.71],[0.225,-9.72],[0.229,-9.71],[0.233,-9.74],[0.237,-9.71],[0.242,-9.66],[0.246,-9.74],[0.251,-9.71],[0.256,-9.72],[0.260,-9.77],[0.263,-9.71],[0.268,-9.69],[0.272,-9.66],[0.276,-9.72],[0.279,-9.71],[0.285,-9.72],[0.290,-9.70],[0.295,-9.72],[0.300,-9.71],[0.306,-9.72],[0.310,-9.76],[0.315,-9.74],[0.320,-9.72],[0.324,-9.73],[0.329,-9.71],[0.334,-9.73],[0.339,-9.75],[0.345,-9.75],[0.349,-9.69],[0.353,-9.71],[0.357,-9.69],[0.360,-9.75],[0.365,-9.69],[0.370,-9.62],[0.375,-9.72],[0.381,-9.71],[0.386,-9.74],[0.392,-9.69],[0.397,-9.75],[0.403,-9.72],[0.408,-9.69],[0.413,-9.72],[0.417,-9.60],[0.420,-9.46],[0.423,-9.58],[0.427,-9.69],[0.429,-9.71],[0.431,-9.0],[0.434,-9.02],[0.436,-9.41],[0.438,-9.71],[0.440,-9.08],[0.442,-9.08],[0.444,-9.50],[0.445,-9.81],[0.447,-9.0],[0.450,-9.02],[0.452,-9.31],[0.454,-9.68],[0.459,-9.69],[0.464,-9.68],[0.468,-9.65],[0.471,-9.72],[0.476,-9.69],[0.483,-9.69],[0.488,-9.72],[0.493,-9.69],[0.498,-9.72],[0.503,-9.75],[0.508,-9.72],[0.513,-9.71],[0.518,-9.69],[0.523,-9.72],[0.528,-9.72],[0.534,-9.71],[0.541,-9.68],[0.544,-9.79],[0.549,-9.72],[0.555,-9.71],[0.558,-9.72],[0.560,-9.78],[0.563,-9.0],[0.571,-9.0],[0.573,-9.91],[0.576,-9.69],[0.578,-9.77],[0.582,-9.72],[0.586,-9.72],[0.590,-9.67],[0.594,-9.74],[0.599,-9.67],[0.602,-9.74],[0.607,-9.72],[0.613,-9.74],[0.616,-9.69],[0.621,-9.65],[0.625,-9.71],[0.630,-9.71],[0.635,-9.72],[0.640,-9.71],[0.643,-9.65],[0.645,-9.69],[0.649,-9.75],[0.653,-9.71],[0.655,-9.0],[0.658,-9.38],[0.660,-9.85],[0.664,-9.63],[0.667,-9.61],[0.669,-9.865],[0.672,-9.0],[0.674,-9.0],[0.677,-10.0],[0.679,-9.68],[0.683,-9.77],[0.688,-9.72],[0.694,-9.71],[0.698,-9.58],[0.702,-9.66],[0.705,-9.61],[0.707,-10.0],[0.710,-9.0],[0.713,-9.0],[0.715,-10.0],[0.718,-9.0],[0.721,-9.0],[0.725,-9.94],[0.727,-9.72],[0.731,-9.75],[0.734,-9.69],[0.737,-9.74],[0.741,-9.72],[0.746,-9.71],[0.750,-9.66],[0.754,-9.66],[0.757,-9.88],[0.760,-9.0],[0.763,-9.0],[0.765,-9.71],[0.769,-9.60],[0.773,-9.71],[0.776,-9.63],[0.781,-9.57],[0.785,-9.60],[0.788,-9.60],[0.790,-9.91],[0.793,-9.0],[0.796,-9.0],[0.798,-9.60],[0.800,-9.0],[0.804,-9.0],[0.807,-10.0],[0.809,-9.0],[0.813,-9.0],[0.815,-10.0],[0.817,-9.25],[0.819,-10.0],[0.822,-9.0],[0.825,-9.0],[0.827,-10.0],[0.829,-9.63],[0.831,-9.09],[0.833,-9.63],[0.835,-9.41],[0.837,-9.31],[0.839,-10.0],[0.842,-9.16],[0.844,-9.0],[0.847,-10.0],[0.851,-9.50],[0.853,-10.0],[0.856,-9.0],[0.859,-9.0],[0.862,-10.0],[0.865,-9.63],[0.867,-9.68],[0.871,-9.63],[0.873,-9.66],[0.877,-9.85],[0.880,-9.0],[0.884,-9.0],[0.886,-9.69],[0.888,-9.16],[0.890,-9.17],[0.894,-9.75],[0.896,-9.16],[0.899,-9.57],[0.901,-9.0],[0.905,-9.0],[0.908,-10.0],[0.910,-9.60],[0.913,-9.75],[0.915,-9.68],[0.918,-9.75],[0.920,-9.63],[0.923,-9.97],[0.925,-9.03],[0.928,-9.03],[0.930,-9.91],[0.934,-9.69],[0.939,-9.68],[0.943,-9.69],[0.948,-9.71],[0.951,-9.82],[0.953,-9.0],[0.957,-9.0],[0.959,-9.88],[0.962,-9.71],[0.967,-9.72],[0.972,-9.72],[0.976,-9.77],[0.981,-9.72],[0.986,-9.72],[0.990,-9.70],[0.993,-9.63],[0.996,-9.19],[0.998,-9.69],[1.0,-9.85]];

const traces = [smb, mcw, rpw, b001, b007, sqm, b013, hdw, gnw, cpw];

const font = '"Liberation Sans", Arial, Helvetica, sans-serif';
const ink = '#1a1a1a';
const chart = echarts.init(document.getElementById('c'), null, {renderer: 'canvas', width: 1381, height: 1140});

const axisLineStyle = {color: ink, width: 1.5};
const option = {
  animation: false,
  backgroundColor: '#ffffff',
  grid: {left: 57, right: 2, top: 15, bottom: 67, containLabel: false, outerBoundsMode: 'none'},
  xAxis: [
    {type: 'value', min: 0, max: 1, interval: 0.1, position: 'bottom',
     axisLine: {show: true, onZero: false, lineStyle: axisLineStyle},
     axisTick: {show: true, inside: true, length: 13, lineStyle: axisLineStyle},
     axisLabel: {show: true, margin: 9, color: ink, fontSize: 22, fontFamily: font,
       showMinLabel: true, showMaxLabel: true, hideOverlap: false,
       formatter: v => String(+(+v).toFixed(1))},
     splitLine: {show: false}},
    {type: 'value', min: 0, max: 1, interval: 0.1, position: 'top',
     axisLine: {show: true, onZero: false, lineStyle: axisLineStyle},
     axisTick: {show: true, inside: true, length: 13, lineStyle: axisLineStyle},
     axisLabel: {show: false}, splitLine: {show: false}}
  ],
  yAxis: [
    {type: 'value', min: -10, max: 0, interval: 1, position: 'left',
     axisLine: {show: true, onZero: false, lineStyle: axisLineStyle},
     axisTick: {show: true, inside: true, length: 13, lineStyle: axisLineStyle},
     axisLabel: {show: true, margin: 7, color: ink, fontSize: 22, fontFamily: font,
       formatter: v => v < 0 ? '\u2212' + Math.abs(v) : String(v)},
     splitLine: {show: true, lineStyle: {color: '#111', width: 1.5, type: [4, 5, 1.5, 5]}}},
    {type: 'value', min: -10, max: 0, interval: 1, position: 'right',
     axisLine: {show: true, onZero: false, lineStyle: axisLineStyle},
     axisTick: {show: true, inside: true, length: 13, lineStyle: axisLineStyle},
     axisLabel: {show: false}, splitLine: {show: false}}
  ],
  series: traces.map((d, i) => ({
    name: stations[i], type: 'line', data: d, xAxisIndex: 0, yAxisIndex: 0,
    showSymbol: false, symbol: 'none', clip: true, z: 3,
    lineStyle: {color: '#0000ff', width: 2.7, join: 'round', cap: 'round'}
  })).concat([{
    name: 'marker', type: 'line', xAxisIndex: 0, yAxisIndex: 0,
    data: [[markerX, 0], [markerX, -10]], showSymbol: false, symbol: 'none', z: 4,
    lineStyle: {color: '#ff0000', width: 3, type: [4, 6]}
  }])
};
chart.setOption(option);

const xr = chart.convertToPixel({xAxisIndex: 0}, 1);
const graphics = stations.map((s, i) => {
  const py = chart.convertToPixel({yAxisIndex: 0}, -i);
  return {type: 'text', x: xr - 1, y: py + 14, z: 10,
    style: {text: s, fill: ink, font: '22px ' + font,
      textAlign: 'right', textVerticalAlign: 'middle', align: 'right', verticalAlign: 'middle'}};
});
graphics.push({type: 'text', x: 123, y: 1130, z: 10,
  style: {text: footnote, fill: ink, font: '22px ' + font,
    textAlign: 'left', textVerticalAlign: 'middle', align: 'left', verticalAlign: 'middle'}});
chart.setOption({graphic: graphics});
</script>
</body></html>
